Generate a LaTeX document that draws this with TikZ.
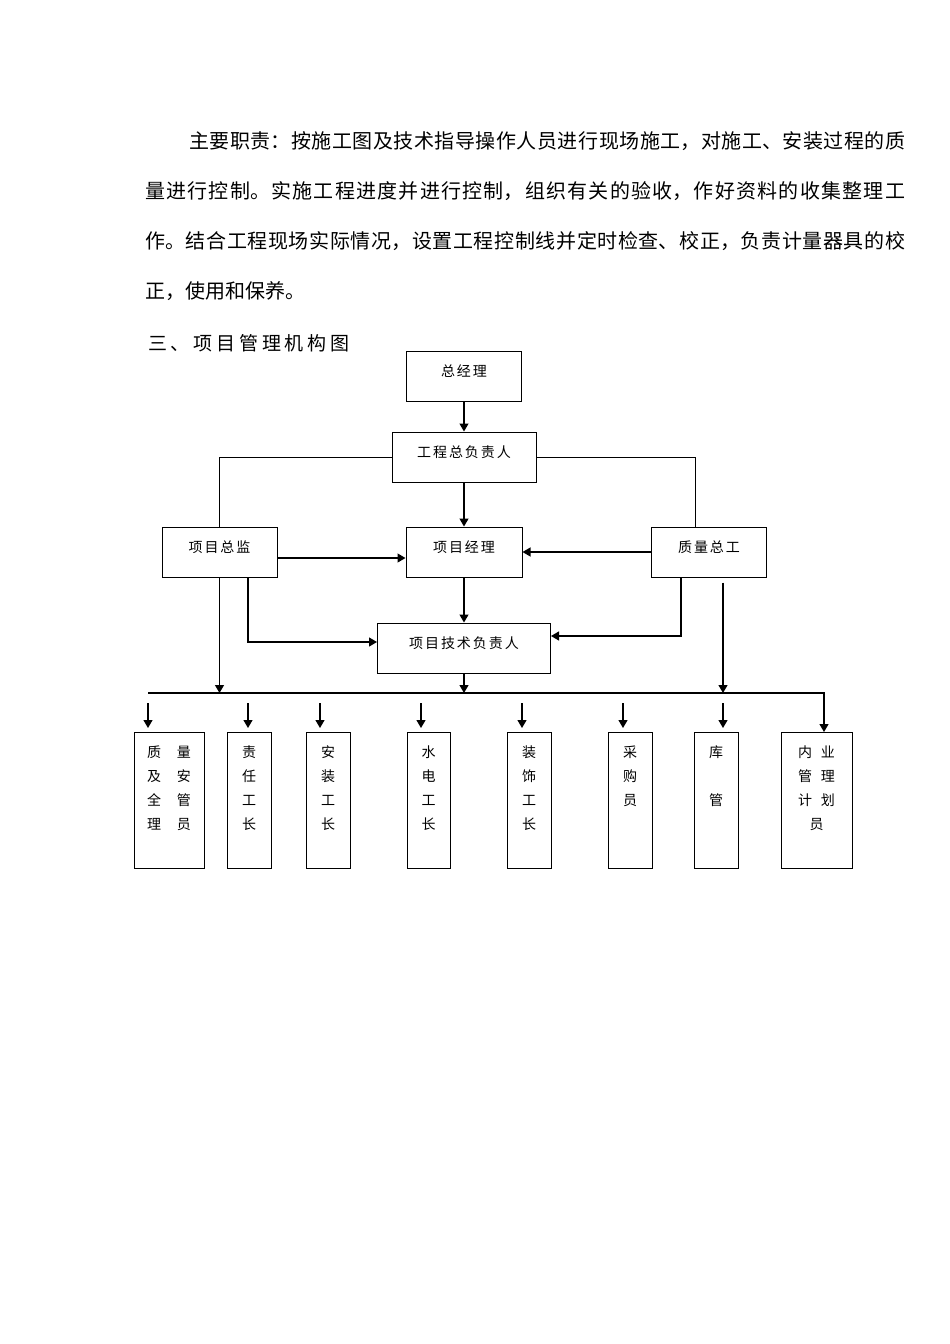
\documentclass[tikz,border=0pt]{standalone}
\usepackage{fontspec}
\setmainfont{Noto Sans CJK SC}
\usetikzlibrary{arrows.meta,positioning}
\XeTeXlinebreaklocale "zh"
\XeTeXlinebreakskip=0pt plus 3pt

\begin{document}
\begin{tikzpicture}[x=1pt, y=-1pt,
    box/.style={draw, line width=1pt, minimum height=50pt, inner sep=0pt,
        text height=12pt, text depth=12pt,
        font=\fontsize{14}{24}\selectfont\addfontfeature{LetterSpace=14}},
    member/.style={draw, line width=1pt, anchor=north, inner xsep=0pt, inner ysep=13pt,
        align=center, font=\fontsize{14}{24}\selectfont},
    arr/.style={line width=1.2pt, -{Triangle[length=8pt,width=9pt]}},
    link/.style={line width=0.9pt}]
    \useasboundingbox (0,0) rectangle (950,1344);

    % Duties text
    \node[anchor=north west, inner sep=0pt, text width=760pt, align=justify,
        font=\fontsize{20}{50}\selectfont] (duty) at (145,131)
        {\hspace*{44pt}主要职责：按施工图及技术指导操作人员进行现场施工，对施工、安装过程的质\linebreak
        量进行控制。实施工程进度并进行控制，组织有关的验收，作好资料的收集整理工\linebreak
        作。结合工程现场实际情况，设置工程控制线并定时检查、校正，负责计量器具的校\linebreak
        正，使用和保养。};

    % Heading
    \node[anchor=west, inner sep=0pt, font=\fontsize{19}{19}\selectfont\addfontfeature{LetterSpace=20}]
        (title) at (148,343) {三、项目管理机构图};

    % Top levels
    \node[box, minimum width=115pt] (gm) at (464,376.5) {总经理};
    \node[box, minimum width=144pt] (chief) at (464,457) {工程总负责人};
    \node[box, minimum width=115pt] (sup) at (219.5,552) {项目总监};
    \node[box, minimum width=116pt] (pm) at (464,552) {项目经理};
    \node[box, minimum width=115pt] (qe) at (709,552) {质量总工};
    \node[box, minimum width=173pt] (tech) at (464,648) {项目技术负责人};

    \draw[arr] (gm) -- (chief);
    \draw[arr] (chief) -- (pm);
    \draw[link] (chief.west) -| (sup.north);
    \draw[link] (chief.east) -| ([xshift=-14pt]qe.north);
    \draw[arr] ([yshift=-6pt]sup.east) -- ([yshift=-6pt]pm.west);
    \draw[arr] (qe.west) -- (pm.east);
    \draw[arr] (pm) -- (tech);
    \draw[arr] ([xshift=28.5pt]sup.south) |- ([yshift=6pt]tech.west);
    \draw[arr] ([xshift=-28pt]qe.south) |- ([yshift=12pt]tech.east);

    % Bus line to the staff
    \coordinate (busL) at (148,693);
    \draw[arr] (sup.south) -- (sup.south |- busL);
    \draw[arr] ([xshift=14pt,yshift=-5pt]qe.south) -- ([xshift=14pt]qe.south |- busL);
    \draw[arr] (tech) -- (tech.south |- busL);

    % Staff boxes (text height = down to the last line)
    \foreach \n/\x/\w/\th/\td/\t in {
        w1/169/70/84/26/{质\hspace{16pt}量\\及\hspace{16pt}安\\全\hspace{16pt}管\\理\hspace{16pt}员},
        w2/249/44/84/26/{责\\任\\工\\长},
        w3/328/44/84/26/{安\\装\\工\\长},
        w4/428.5/43/84/26/{水\\电\\工\\长},
        w5/529/44/84/26/{装\\饰\\工\\长},
        w6/630/44/60/50/{采\\购\\员},
        w7/716/44/60/50/{库\\[24pt]管},
        w8/816.5/71/84/26/{内\hspace{9pt}业\\管\hspace{9pt}理\\计\hspace{9pt}划\\员}}
        \node[member, minimum width=\w pt, text height=\th pt, text depth=\td pt] (\n) at (\x,732) {\t};

    \draw[arr] (busL) -| ([xshift=7.5pt]w8.north);
    \foreach \i/\x in {1/148, 2/248, 3/320, 4/421, 5/522, 6/623, 7/723} {
        \coordinate (a\i) at (\x,703);
        \draw[arr, shorten >=4pt] (a\i) -- (a\i |- w\i.north);
    }
\end{tikzpicture}
\end{document}
